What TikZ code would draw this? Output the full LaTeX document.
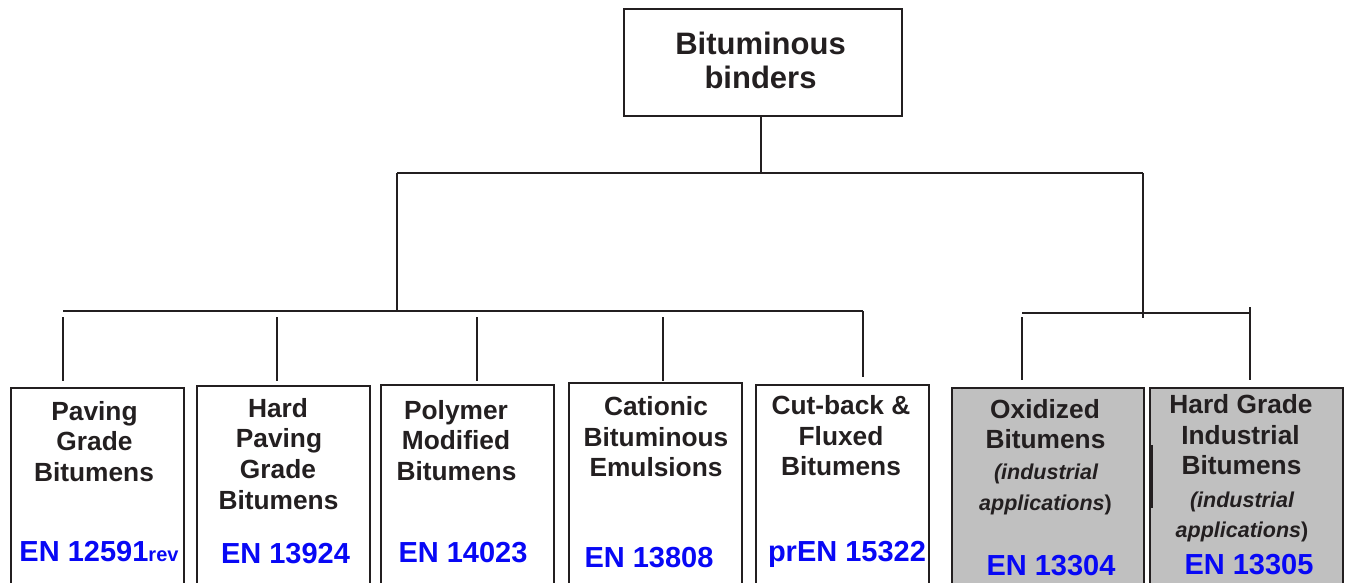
\documentclass[tikz,border=0pt]{standalone}
\usepackage{fontspec}
\setmainfont{Liberation Sans}
\definecolor{ink}{RGB}{35,31,32}
\definecolor{enblue}{RGB}{8,8,245}
\definecolor{boxgray}{RGB}{192,192,192}
\begin{document}
\begin{tikzpicture}[x=1pt,y=-1pt,
  box/.style={draw=ink,line width=1.8pt,anchor=north west,minimum height=240pt,inner sep=0pt},
  graybox/.style={box,fill=boxgray},
  conn/.style={draw=ink,line width=1.3pt},
  tx/.style={text=ink,inner sep=0pt,anchor=base,font=\fontsize{26.3pt}{30pt}\selectfont\bfseries},
  ttl/.style={text=ink,inner sep=0pt,anchor=base,font=\fontsize{31pt}{34pt}\selectfont\bfseries},
  itx/.style={text=ink,inner sep=0pt,anchor=base,font=\fontsize{21.5pt}{24pt}\selectfont\bfseries},
  en/.style={text=enblue,inner sep=0pt,anchor=base,font=\fontsize{29pt}{32pt}\selectfont\bfseries}]
\path[use as bounding box,clip] (0,0) rectangle (1345,582);

% top box
\node[draw=ink,line width=1.8pt,minimum width=278pt,minimum height=107pt,inner sep=0pt] (top) at (763,62.5) {};
\node[ttl] (top1) at (760.5,54) {Bituminous};
\node[ttl] (top2) at (760.5,88) {binders};

% boxes
\node[box,minimum width=173pt] (b1) at (10,387) {};
\node[box,minimum width=173pt] (b2) at (196,385) {};
\node[box,minimum width=173pt] (b3) at (380,384) {};
\node[box,minimum width=173pt] (b4) at (568,382) {};
\node[box,minimum width=173pt] (b5) at (755,384) {};
\node[graybox,minimum width=192pt] (b6) at (951,387) {};
\node[graybox,minimum width=193pt] (b7) at (1149,387) {};
\draw[draw=ink,line width=3pt] (1151,445) -- (1151,508);

% connectors
\coordinate (j0) at (761,173);
\coordinate (jl) at (397,173);
\coordinate (jr) at (1143,173);
\coordinate (bl) at (397,311);
\coordinate (busL) at (63,311);
\coordinate (busR) at (863,311);
\coordinate (d1) at (63,317);
\coordinate (d2) at (277,317);
\coordinate (d3) at (477,317);
\coordinate (d4) at (663,317);
\coordinate (br) at (1143,318);
\coordinate (rbusL) at (1022,313);
\coordinate (rbusR) at (1250,313);
\coordinate (d6) at (1022,317);
\coordinate (d7) at (1250,307);

\draw[conn] (j0 |- top.south) -- (j0);
\draw[conn] (jl) -- (jr);
\draw[conn] (jl) -- (bl);
\draw[conn] (busL) -- (busR);
\draw[conn,shorten >=6pt] (d1) -- (d1 |- b1.north);
\draw[conn,shorten >=4pt] (d2) -- (d2 |- b2.north);
\draw[conn,shorten >=3pt] (d3) -- (d3 |- b3.north);
\draw[conn,shorten >=1pt] (d4) -- (d4 |- b4.north);
\draw[conn,shorten >=7pt] (busR) -- (busR |- b5.north);
\draw[conn] (jr) -- (br);
\draw[conn] (rbusL) -- (rbusR);
\draw[conn,shorten >=7pt] (d6) -- (d6 |- b6.north);
\draw[conn,shorten >=7pt] (d7) -- (d7 |- b7.north);

% box 1
\node[tx] (t1a) at (94.5,420) {Paving};
\node[tx] (t1b) at (94.5,450) {Grade};
\node[tx] (t1c) at (94,481) {Bitumens};
\node[en] (e1) at (99,561) {EN 12591{\fontsize{20pt}{20pt}\selectfont rev}};
% box 2
\node[tx] (t2a) at (278,417) {Hard};
\node[tx] (t2b) at (279,447) {Paving};
\node[tx] (t2c) at (278,478) {Grade};
\node[tx] (t2d) at (278.5,509) {Bitumens};
\node[en] (e2) at (285.5,563) {EN 13924};
% box 3
\node[tx] (t3a) at (456,419) {Polymer};
\node[tx] (t3b) at (456,449) {Modified};
\node[tx] (t3c) at (456.5,480) {Bitumens};
\node[en] (e3) at (463,562) {EN 14023};
% box 4
\node[tx] (t4a) at (656,415) {Cationic};
\node[tx] (t4b) at (656,446) {Bituminous};
\node[tx] (t4c) at (656,476) {Emulsions};
\node[en] (e4) at (649,567) {EN 13808};
% box 5
\node[tx] (t5a) at (841,414) {Cut-back \&};
\node[tx] (t5b) at (841,445) {Fluxed};
\node[tx] (t5c) at (841,475) {Bitumens};
\node[en] (e5) at (847,561) {prEN 15322};
% box 6
\node[tx] (t6a) at (1045,418) {Oxidized};
\node[tx] (t6b) at (1045.5,448) {Bitumens};
\node[itx] (t6c) at (1046,479) {\itshape(industrial};
\node[itx] (t6d) at (1045.5,510) {{\itshape applications})};
\node[en] (e6) at (1051,575) {EN 13304};
% box 7
\node[tx] (t7a) at (1241,413) {Hard Grade};
\node[tx] (t7b) at (1240.5,444) {Industrial};
\node[tx] (t7c) at (1241.5,474) {Bitumens};
\node[itx] (t7d) at (1242,507) {\itshape(industrial};
\node[itx] (t7e) at (1242,537) {{\itshape applications})};
\node[en] (e7) at (1249,574) {EN 13305};
\end{tikzpicture}
\end{document}
